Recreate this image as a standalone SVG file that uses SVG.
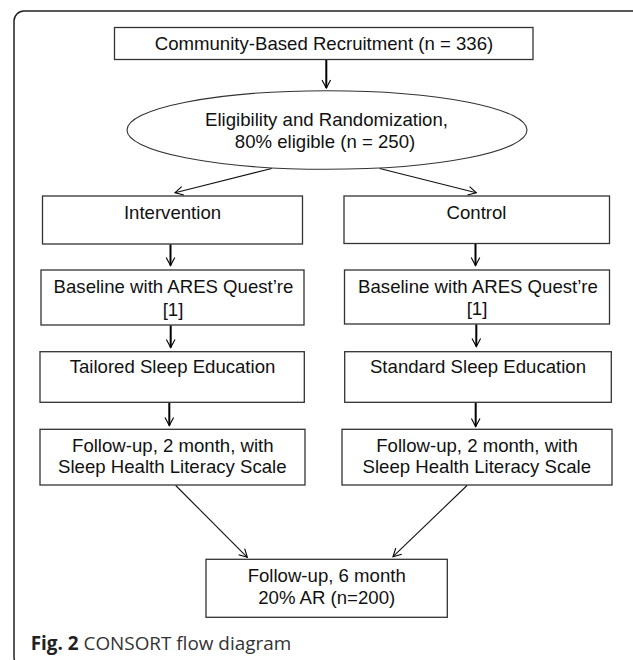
<svg xmlns="http://www.w3.org/2000/svg" width="633" height="660" viewBox="0 0 633 660">
<style>
.box{fill:#fff;stroke:#333;stroke-width:1.3}
.t{font-family:"Liberation Sans",Arial,sans-serif;font-size:18.6px;fill:#111;text-anchor:middle}
.v{stroke:#000;stroke-width:2;fill:none}
.d{stroke:#111;stroke-width:1.1;fill:none}
.cap{font-family:"Open Sans","Noto Sans",sans-serif;font-size:18.9px;fill:#333}
</style>
<defs>
<marker id="ah" markerUnits="userSpaceOnUse" markerWidth="12" markerHeight="12" viewBox="-10 -6 12 12" refX="0" refY="0" orient="auto" overflow="visible">
<path d="M-8,-4.3 L0,0 L-8,4.3" fill="none" stroke="#000" stroke-width="1.1"/>
</marker>
</defs>
<rect width="633" height="660" fill="#fff"/>
<rect x="14" y="11" width="628" height="656" rx="10" ry="10" fill="none" stroke="#222" stroke-width="1.5"/>

<g id="recruitment">
<rect class="box" x="114.5" y="27.5" width="418.5" height="32"/>
<text class="t" x="324" y="50">Community-Based Recruitment (n = 336)</text>
</g>
<g id="eligibility">
<ellipse cx="327" cy="130" rx="200" ry="39.3" fill="#fff" stroke="#333" stroke-width="1.1"/>
<text class="t" x="326.5" y="126">Eligibility and Randomization,</text>
<text class="t" x="325" y="147.5">80% eligible (n = 250)</text>
</g>
<g id="intervention">
<rect class="box" x="42.5" y="196" width="260" height="48"/>
<text class="t" x="172.5" y="219.3">Intervention</text>
</g>
<g id="control">
<rect class="box" x="344" y="196" width="265.5" height="47.5"/>
<text class="t" x="476.5" y="218.5">Control</text>
</g>
<g id="baseline-int">
<rect class="box" x="41" y="270" width="263" height="55"/>
<text class="t" x="173.5" y="292.7">Baseline with ARES Quest’re</text>
<text class="t" x="173" y="315.5">[1]</text>
</g>
<g id="baseline-ctl">
<rect class="box" x="344.5" y="270" width="265" height="54"/>
<text class="t" x="478" y="292.7">Baseline with ARES Quest’re</text>
<text class="t" x="477" y="315">[1]</text>
</g>
<g id="tailored">
<rect class="box" x="40" y="351.7" width="264.3" height="50.6"/>
<text class="t" x="172.5" y="373.3">Tailored Sleep Education</text>
</g>
<g id="standard">
<rect class="box" x="344.7" y="351.7" width="266.6" height="50.6"/>
<text class="t" x="478" y="372.7">Standard Sleep Education</text>
</g>
<g id="followup2-int">
<rect class="box" x="40" y="429.3" width="265" height="55.7"/>
<text class="t" x="172.8" y="451.7">Follow-up, 2 month, with</text>
<text class="t" x="172.3" y="472.7">Sleep Health Literacy Scale</text>
</g>
<g id="followup2-ctl">
<rect class="box" x="342" y="429.3" width="270" height="55.7"/>
<text class="t" x="477" y="451.7">Follow-up, 2 month, with</text>
<text class="t" x="476.8" y="472.7">Sleep Health Literacy Scale</text>
</g>
<g id="followup6">
<rect class="box" x="206" y="559.3" width="241.3" height="58"/>
<text class="t" x="326.7" y="581.7">Follow-up, 6 month</text>
<text class="t" x="326.7" y="604">20% AR (n=200)</text>
</g>

<g id="connectors">
<line class="v" x1="326.3" y1="60" x2="326.3" y2="88" marker-end="url(#ah)"/>
<line class="d" x1="271.7" y1="168.5" x2="175" y2="192.7" marker-end="url(#ah)"/>
<line class="d" x1="379.7" y1="168.5" x2="476.3" y2="192.7" marker-end="url(#ah)"/>
<line class="v" x1="170.5" y1="244.5" x2="170.5" y2="265.5" marker-end="url(#ah)"/>
<line class="v" x1="475.5" y1="244" x2="475.5" y2="265.5" marker-end="url(#ah)"/>
<line class="v" x1="170.7" y1="325.5" x2="170.7" y2="347.5" marker-end="url(#ah)"/>
<line class="v" x1="476.3" y1="324.5" x2="476.3" y2="346.5" marker-end="url(#ah)"/>
<line class="v" x1="169.3" y1="403" x2="169.3" y2="425.5" marker-end="url(#ah)"/>
<line class="v" x1="475.7" y1="403" x2="475.7" y2="426.5" marker-end="url(#ah)"/>
<line class="d" x1="175.7" y1="485.5" x2="247.3" y2="557.3" marker-end="url(#ah)"/>
<line class="d" x1="467" y1="485.5" x2="393" y2="556.7" marker-end="url(#ah)"/>
</g>

<text class="cap" x="30.7" y="650"><tspan font-weight="bold" fill="#222">Fig. 2</tspan> CONSORT flow diagram</text>
</svg>
